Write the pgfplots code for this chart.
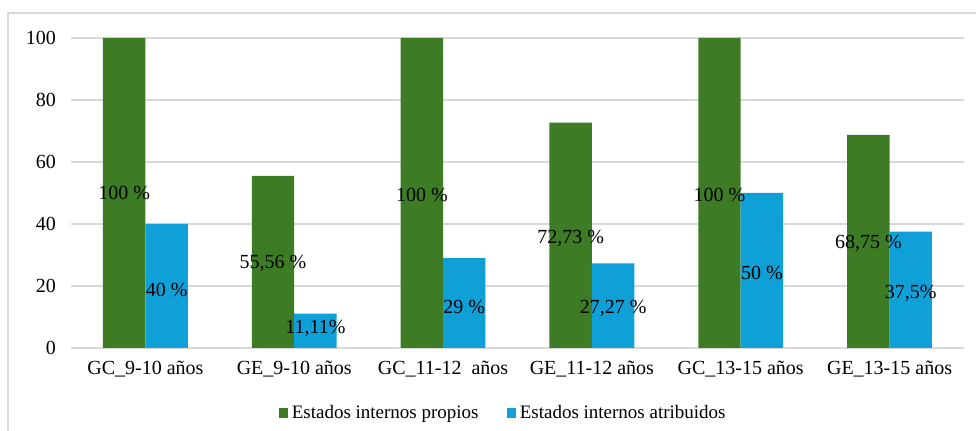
\documentclass[border=0pt]{standalone}
\usepackage{fontspec}
\setmainfont{Liberation Serif}
\usepackage{pgfplots}
\pgfplotsset{compat=1.18}
\definecolor{cgreen}{HTML}{3D7B24}
\definecolor{cblue}{HTML}{10A0D8}
\definecolor{cgrid}{HTML}{D9D9D9}

\begin{document}
\begin{tikzpicture}
\begin{axis}[
    name=ax,
    at={(0,0)}, anchor=south west,
    scale only axis,
    width=446.5pt, height=155pt,
    xmin=-0.5, xmax=5.5,
    ymin=0, ymax=100,
    ytick={0,20,40,60,80,100},
    xtick={0,1,2,3,4,5},
    xticklabels={GC\_9-10 años, GE\_9-10 años, GC\_11-12\ \ años, GE\_11-12 años, GC\_13-15 años, GE\_13-15 años},
    axis line style={draw=none},
    major tick length=0pt,
    ymajorgrids,
    grid style={cgrid, line width=0.8pt},
    /pgf/number format/assume math mode=true,
    tick label style={font=\fontsize{10}{12}\selectfont},
    yticklabel style={xshift=-4pt},
    xticklabel style={yshift=-3pt},
    legend columns=2,
    legend style={at={(0.485,-0.21)}, anchor=center, draw=none, fill=none,
        font=\fontsize{9.5}{11}\selectfont,
        /tikz/every even column/.append style={column sep=12pt}},
    legend image code/.code={\fill[#1] (0pt,-2.3pt) rectangle (4.6pt,2.3pt);},
    clip=false,
]
\addplot[ybar, bar width=0.285, bar shift=-0.1425, fill=cgreen, draw=none]
  coordinates {(0,100) (1,55.56) (2,100) (3,72.73) (4,100) (5,68.75)};
\addlegendentry{Estados internos propios}
\addplot[ybar, bar width=0.285, bar shift=0.1425, fill=cblue, draw=none]
  coordinates {(0,40) (1,11.11) (2,29) (3,27.27) (4,50) (5,37.5)};
\addlegendentry{Estados internos atribuidos}

% data labels, centred on the bars
\addplot[forget plot, only marks, mark=none, nodes near coords, point meta=explicit symbolic,
    every node near coord/.append style={anchor=center, inner sep=0pt, font=\fontsize{10}{12}\selectfont}]
  coordinates {(-0.1425,50)[100 \%] (0.8575,27.4)[55,56 \%] (1.8575,49.4)[100 \%]
               (2.8575,35.5)[72,73 \%] (3.8575,49.4)[100 \%] (4.8575,33.9)[68,75 \%]};
\addplot[forget plot, only marks, mark=none, nodes near coords, point meta=explicit symbolic,
    every node near coord/.append style={anchor=center, inner sep=0pt, font=\fontsize{10}{12}\selectfont}]
  coordinates {(0.1425,18.7)[40 \%] (1.1425,6.4)[11,11\%] (2.1425,13.3)[29 \%]
               (3.1425,12.9)[27,27 \%] (4.1425,24.2)[50 \%] (5.1425,17.7)[37,5\%]};
\end{axis}
\useasboundingbox (-35.5pt,-41.5pt) rectangle (452.5pt,174pt);
\draw[cgrid, line width=0.8pt] (-31.5pt,-41.5pt) -- (-31.5pt,167.5pt) -- (452.5pt,167.5pt);
\end{tikzpicture}
\end{document}
